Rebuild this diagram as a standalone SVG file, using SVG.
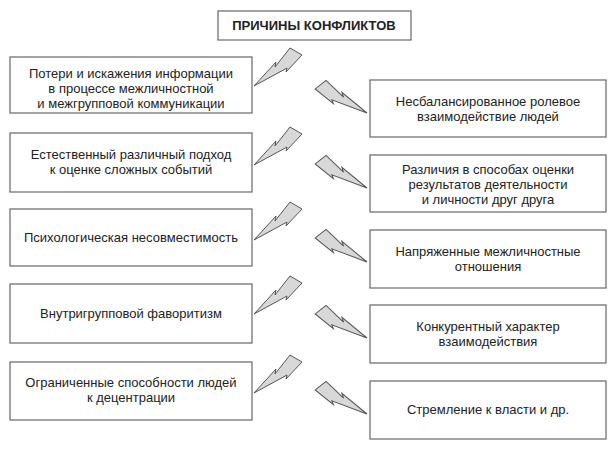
<svg xmlns="http://www.w3.org/2000/svg" width="616" height="449" viewBox="0 0 616 449">
<defs>
<style>
.b{fill:#fff;stroke:#666;stroke-width:1.2}
text{font-family:"Liberation Sans",Arial,sans-serif;font-size:13px;fill:#222;text-anchor:middle}
.t{font-weight:bold;font-size:13px}
.z{fill:#d8d8d8;stroke:#555;stroke-width:1}
</style>
<polygon id="bolt" class="z" points="0,0 22,-24 21,-19 36,-38 48,-31 32,-14 33,-18"/>
</defs>
<g id="title"><rect class="b" x="218" y="11" width="193" height="29"/><text class="t" x="314" y="30">ПРИЧИНЫ КОНФЛИКТОВ</text></g>
<g id="l1"><rect class="b" x="10" y="57" width="242" height="56"/><text x="131" y="78">Потери и искажения информации</text><text x="131" y="93">в процессе межличностной</text><text x="131" y="108">и межгрупповой коммуникации</text></g>
<g id="l2"><rect class="b" x="10" y="133" width="242" height="59"/><text x="131" y="159">Естественный различный подход</text><text x="131" y="174">к оценке сложных событий</text></g>
<g id="l3"><rect class="b" x="10" y="209" width="242" height="57"/><text x="131" y="242">Психологическая несовместимость</text></g>
<g id="l4"><rect class="b" x="10" y="284" width="242" height="59"/><text x="131" y="318">Внутригрупповой фаворитизм</text></g>
<g id="l5"><rect class="b" x="10" y="362" width="242" height="58"/><text x="131" y="387">Ограниченные способности людей</text><text x="131" y="402">к децентрации</text></g>
<g id="r1"><rect class="b" x="370" y="80" width="236" height="57"/><text x="488" y="106">Несбалансированное ролевое</text><text x="488" y="121">взаимодействие людей</text></g>
<g id="r2"><rect class="b" x="370" y="155" width="236" height="57"/><text x="488" y="174">Различия в способах оценки</text><text x="488" y="189">результатов деятельности</text><text x="488" y="204">и личности друг друга</text></g>
<g id="r3"><rect class="b" x="370" y="230" width="236" height="58"/><text x="488" y="256">Напряженные межличностные</text><text x="488" y="271">отношения</text></g>
<g id="r4"><rect class="b" x="370" y="305" width="236" height="58"/><text x="488" y="331">Конкурентный характер</text><text x="488" y="346">взаимодействия</text></g>
<g id="r5"><rect class="b" x="370" y="381" width="236" height="58"/><text x="488" y="414">Стремление к власти и др.</text></g>
<g id="connectors">
<use href="#bolt" transform="translate(254,86)"/>
<use href="#bolt" transform="translate(254,165)"/>
<use href="#bolt" transform="translate(254,240)"/>
<use href="#bolt" transform="translate(254,314)"/>
<use href="#bolt" transform="translate(254,393)"/>
<use href="#bolt" transform="translate(367,113) scale(-1,1) rotate(8)"/>
<use href="#bolt" transform="translate(367,188) scale(-1,1) rotate(8)"/>
<use href="#bolt" transform="translate(367,262) scale(-1,1) rotate(8)"/>
<use href="#bolt" transform="translate(367,338) scale(-1,1) rotate(8)"/>
<use href="#bolt" transform="translate(367,414) scale(-1,1) rotate(8)"/>
</g>
</svg>
